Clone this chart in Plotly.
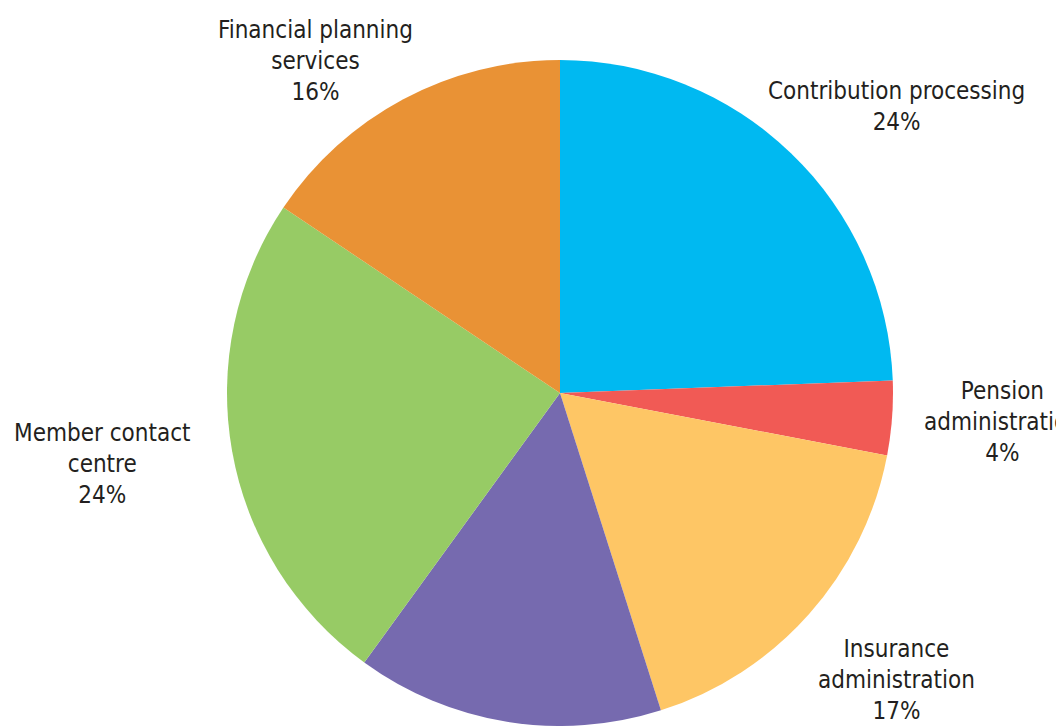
import plotly.graph_objects as go

# Share of service effort by area, in percent (clockwise from 12 o'clock)
categories = [
    "Contribution processing",
    "Pension administration",
    "Insurance administration",
    "Other services",
    "Member contact centre",
    "Financial planning services",
]
shares = [24.4, 3.6, 17.1, 14.9, 24.4, 15.6]
colors = ["#00B9F1", "#F15A55", "#FEC665", "#766AAF", "#97CB65", "#E99235"]

# Wrapped label text for each slice (None = label falls outside the canvas)
label_lines = [
    ["Contribution processing"],
    ["Pension", "administration"],
    ["Insurance", "administration"],
    None,
    ["Member contact", "centre"],
    ["Financial planning", "services"],
]
# Label anchor positions in pixels (centre x, middle y)
label_pos = [(896, 106), (1002, 422), (896, 680), None, (102, 464), (315, 61)]

W, H = 1056, 726
cx, top, r = 560, 60, 333

fig = go.Figure(
    go.Pie(
        labels=categories,
        values=shares,
        sort=False,
        direction="clockwise",
        rotation=0,
        marker=dict(colors=colors, line=dict(width=0)),
        textinfo="none",
        hoverinfo="label+percent",
        showlegend=False,
        domain=dict(x=[(cx - r) / W, (cx + r) / W], y=[1 - (top + 2 * r) / H, 1 - top / H]),
    )
)

font = dict(family="Liberation Sans Narrow, DejaVu Sans Condensed, Arial Narrow, sans-serif",
            size=24, color="#231F20")
total = sum(shares)
for lines, pos, v in zip(label_lines, label_pos, shares):
    if lines is None:
        continue
    text = "<br>".join(lines + [f"{round(100 * v / total)}%"])
    fig.add_annotation(
        x=pos[0] / W, y=1 - pos[1] / H, xref="paper", yref="paper",
        text=text, showarrow=False, xanchor="center", yanchor="middle",
        align="center", font=font,
    )

fig.update_layout(
    width=W, height=H,
    margin=dict(l=0, r=0, t=0, b=0),
    paper_bgcolor="white", plot_bgcolor="white",
)

fig.write_html("out.html")
